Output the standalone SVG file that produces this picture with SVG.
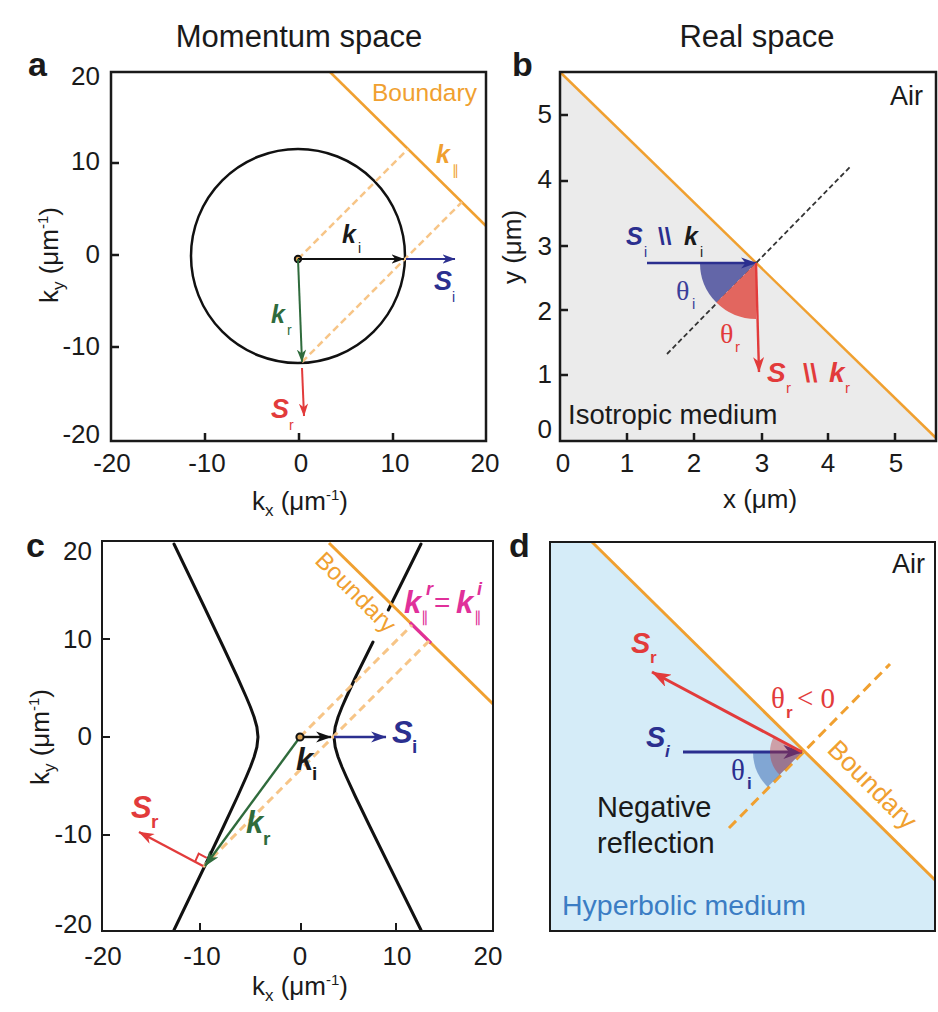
<svg xmlns="http://www.w3.org/2000/svg" width="938" height="1012" viewBox="0 0 938 1012">
<style>
text{font-family:"Liberation Sans",Arial,sans-serif;fill:#1a1a1a}
.tk{font-size:26px}
.ttl{font-size:31px}
.pl{font-size:34px;font-weight:bold}
.v{font-weight:bold;font-style:italic}
.sr{font-family:"Liberation Serif","Times New Roman",serif}
.frame{fill:none;stroke:#1a1a1a;stroke-width:2.5}
.tick{stroke:#1a1a1a;stroke-width:2.5}
.bd{stroke:#f0a030;stroke-width:2.5;fill:none}
.dsh{stroke:#f7c587;stroke-width:2.5;stroke-dasharray:7 4;fill:none}
.hyp{fill:none;stroke:#111;stroke-width:3;stroke-linejoin:round;stroke-linecap:round}
.blue{fill:#2b2f8f}
.red{fill:#e23b3b}
.green{fill:#2f6b3c}
.orng{fill:#f0a030}
.mag{fill:#e0309a}
</style>
<defs>
<marker id="ah-k" viewBox="0 0 14 10" refX="13.5" refY="5" markerWidth="6.5" markerHeight="4.6" markerUnits="strokeWidth" orient="auto"><path d="M0,0 L14,5 L0,10 L4,5 Z" fill="#111"/></marker>
<marker id="ah-b" viewBox="0 0 14 10" refX="13.5" refY="5" markerWidth="6.5" markerHeight="4.6" markerUnits="strokeWidth" orient="auto"><path d="M0,0 L14,5 L0,10 L4,5 Z" fill="#2b2f8f"/></marker>
<marker id="ah-r" viewBox="0 0 14 10" refX="13.5" refY="5" markerWidth="6.5" markerHeight="4.6" markerUnits="strokeWidth" orient="auto"><path d="M0,0 L14,5 L0,10 L4,5 Z" fill="#e23b3b"/></marker>
<marker id="ah-g" viewBox="0 0 14 10" refX="13.5" refY="5" markerWidth="6.5" markerHeight="4.6" markerUnits="strokeWidth" orient="auto"><path d="M0,0 L14,5 L0,10 L4,5 Z" fill="#2f6b3c"/></marker>
</defs>

<!-- titles -->
<text x="299" y="47" text-anchor="middle" class="ttl">Momentum space</text>
<text x="757" y="47" text-anchor="middle" class="ttl">Real space</text>

<!-- ================= Panel a ================= -->
<g id="panel-a">
  <text x="28" y="76" class="pl">a</text>
  <path class="bd" d="M330,72 L486,226"/>
  <circle cx="298" cy="256" r="107" fill="none" stroke="#111" stroke-width="2.5"/>
  <path class="dsh" d="M298,259 L408,149 M302,362 L462,202"/>
  <rect class="frame" x="111" y="72" width="375" height="369"/>
  <path class="tick" d="M205,441 v-8 M299,441 v-8 M393,441 v-8 M111,163 h8 M111,255 h8 M111,347 h8"/>
  <g class="tk" text-anchor="end">
    <text x="100" y="85">20</text>
    <text x="100" y="170">10</text>
    <text x="100" y="263">0</text>
    <text x="100" y="355">-10</text>
    <text x="100" y="443">-20</text>
  </g>
  <g class="tk" text-anchor="middle">
    <text x="112" y="472">-20</text>
    <text x="207" y="472">-10</text>
    <text x="301" y="472">0</text>
    <text x="395" y="472">10</text>
    <text x="485" y="472">20</text>
  </g>
  <text x="300" y="510" text-anchor="middle" class="tk">k<tspan font-size="17" dy="6">x</tspan><tspan dy="-6"> (μm</tspan><tspan font-size="15" dy="-10">-1</tspan><tspan dy="10">)</tspan></text>
  <text transform="translate(58,255) rotate(-90)" text-anchor="middle" class="tk">k<tspan font-size="17" dy="6">y</tspan><tspan dy="-6"> (μm</tspan><tspan font-size="15" dy="-10">-1</tspan><tspan dy="10">)</tspan></text>
  <text x="372" y="101" font-size="24.5" class="orng">Boundary</text>
  <text x="436" y="163" font-size="25" class="v orng">k</text>
  <text x="452" y="175" font-size="14" class="orng" font-family="DejaVu Sans">∥</text>
  <text x="342" y="243" font-size="25" class="v">k</text>
  <text x="358" y="253" font-size="14">i</text>
  <text x="434" y="290" font-size="27" class="v blue">S</text>
  <text x="452" y="302" font-size="14" class="blue">i</text>
  <text x="271" y="323" font-size="25" class="v green">k</text>
  <text x="287" y="335" font-size="14" class="green">r</text>
  <text x="271" y="418" font-size="27" class="v red">S</text>
  <text x="289" y="430" font-size="14" class="red">r</text>
</g>

<!-- ================= Panel b ================= -->
<g id="panel-b">
  <text x="512" y="76" class="pl">b</text>
  <polygon points="560,72 936,438 936,441 560,441" fill="#ebebeb"/>
  <path class="bd" d="M560,72 L936,438"/>
  <path d="M667,354 L850,167" stroke="#333" stroke-width="1.8" stroke-dasharray="5 3" fill="none"/>
  <path d="M756,263 L700,263 A56,56 0 0 0 716.4,302.6 Z" fill="#6366a8"/>
  <path d="M756,263 L716.4,302.6 A56,56 0 0 0 756,319 Z" fill="#e2665f"/>
  <rect class="frame" x="560" y="72" width="376" height="369"/>
  <path class="tick" d="M627,441 v-8 M694,441 v-8 M762,441 v-8 M828,441 v-8 M895,441 v-8 M560,115 h8 M560,181 h8 M560,246 h8 M560,310 h8 M560,375 h8"/>
  <g class="tk" text-anchor="end">
    <text x="552" y="123">5</text>
    <text x="552" y="188">4</text>
    <text x="552" y="255">3</text>
    <text x="552" y="320">2</text>
    <text x="552" y="383">1</text>
    <text x="552" y="438">0</text>
  </g>
  <g class="tk" text-anchor="middle">
    <text x="563" y="472">0</text>
    <text x="627" y="472">1</text>
    <text x="694" y="472">2</text>
    <text x="762" y="472">3</text>
    <text x="828" y="472">4</text>
    <text x="896" y="472">5</text>
  </g>
  <text x="760" y="508" text-anchor="middle" class="tk">x (μm)</text>
  <text transform="translate(521,247) rotate(-90)" text-anchor="middle" class="tk">y (μm)</text>
  <text x="923" y="105" text-anchor="end" font-size="27">Air</text>
  <text x="568" y="424" font-size="27.5">Isotropic medium</text>
  <text x="626" y="245" font-size="25" class="v blue">S</text>
  <text x="644" y="257" font-size="14" class="blue">i</text>
  <text x="658" y="245" font-size="24" font-weight="bold" class="blue">\\</text>
  <text x="684" y="245" font-size="25" class="v">k</text>
  <text x="700" y="257" font-size="14">i</text>
  <text x="676" y="300" font-size="28" class="sr" style="fill:#3b3f9a">θ</text>
  <text x="692" y="309" font-size="15" style="fill:#3b3f9a">i</text>
  <text x="720" y="343" font-size="28" class="sr" style="fill:#e23b3b">θ</text>
  <text x="735" y="352" font-size="15" class="red">r</text>
  <text x="767" y="382" font-size="28" class="v red">S</text>
  <text x="786" y="393" font-size="15" class="red">r</text>
  <text x="803" y="382" font-size="26" font-weight="bold" class="red">\\</text>
  <text x="829" y="382" font-size="28" class="v red">k</text>
  <text x="845" y="393" font-size="15" class="red">r</text>
</g>

<!-- ================= Panel c ================= -->
<g id="panel-c">
  <text x="26" y="557" class="pl">c</text>
  <path class="hyp" d="M174,544 L204.3,607 L223.3,647 L237.3,677 L246.2,697 L250.4,707 L254.1,717 L256.9,727 L258,737 L256.9,747 L254.1,757 L250.4,767 L246.2,777 L237.3,797 L223.3,827 L204.3,867 L174,930"/>
  <path class="hyp" d="M421,544 L388.3,610 M373,642 L355.6,677 L346.4,697 L342,707 L338.1,717 L335.2,727 L334,737 L335.2,747 L338.1,757 L342,767 L346.4,777 L355.6,797 L370.1,827 L389.8,867 L421,930"/>
  <path d="M329,543 L493,704" stroke="#f0a030" stroke-width="3" fill="none"/>
  <path d="M410,622.5 L431,643.2" stroke="#e0309a" stroke-width="3.2" fill="none"/>
  <path d="M300,737 L412,625 M203,867 L429,641" stroke="#f7c587" stroke-width="3" stroke-dasharray="8 5" fill="none"/>
  <rect x="102" y="541" width="391" height="390" fill="none" stroke="#1a1a1a" stroke-width="2"/>
  <path class="tick" d="M200,931 v-8 M301,931 v-8 M396,931 v-8 M102,639 h8 M102,737 h8 M102,835 h8" style="stroke-width:2"/>
  <g class="tk" text-anchor="end">
    <text x="92" y="560">20</text>
    <text x="92" y="648">10</text>
    <text x="92" y="745">0</text>
    <text x="92" y="843">-10</text>
    <text x="92" y="933">-20</text>
  </g>
  <g class="tk" text-anchor="middle">
    <text x="103" y="965">-20</text>
    <text x="202" y="965">-10</text>
    <text x="300" y="965">0</text>
    <text x="397" y="965">10</text>
    <text x="488" y="965">20</text>
  </g>
  <text x="300" y="995" text-anchor="middle" class="tk">k<tspan font-size="17" dy="6">x</tspan><tspan dy="-6"> (μm</tspan><tspan font-size="15" dy="-10">-1</tspan><tspan dy="10">)</tspan></text>
  <text transform="translate(49,737) rotate(-90)" text-anchor="middle" class="tk">k<tspan font-size="17" dy="6">y</tspan><tspan dy="-6"> (μm</tspan><tspan font-size="15" dy="-10">-1</tspan><tspan dy="10">)</tspan></text>
  <text transform="translate(350,598) rotate(45)" text-anchor="middle" font-size="24" class="orng">Boundary</text>
  <text x="404" y="613" font-size="31" class="v mag">k</text>
  <text x="426" y="595" font-size="18" class="v mag">r</text>
  <text x="421" y="622" font-size="15" class="mag" font-family="DejaVu Sans">∥</text>
  <text x="434" y="612" font-size="28" class="mag">=</text>
  <text x="456" y="613" font-size="31" class="v mag">k</text>
  <text x="477" y="595" font-size="18" class="v mag">i</text>
  <text x="474" y="622" font-size="15" class="mag" font-family="DejaVu Sans">∥</text>
  <text x="296" y="770" font-size="31" class="v">k</text>
  <text x="312" y="780" font-size="19" font-weight="bold">i</text>
  <text x="392" y="743" font-size="31" class="v blue">S</text>
  <text x="412" y="753" font-size="19" font-weight="bold" class="blue">i</text>
  <text x="246" y="833" font-size="31" class="v green">k</text>
  <text x="263" y="845" font-size="19" font-weight="bold" class="green">r</text>
  <text x="131" y="818" font-size="31" class="v red">S</text>
  <text x="151" y="828" font-size="19" font-weight="bold" class="red">r</text>
  <polyline points="195,861.8 198.7,853.6 206.7,857.8" fill="none" stroke="#e23b3b" stroke-width="2"/>
</g>

<!-- ================= Panel d ================= -->
<g id="panel-d">
  <text x="509" y="557" class="pl">d</text>
  <polygon points="550,542 592,542 935,880 935,931 550,931" fill="#d5ecf8"/>
  <path d="M592,542 L935,880" stroke="#f0a030" stroke-width="3" fill="none"/>
  <path d="M729,828 L890,664" stroke="#f0a030" stroke-width="3" stroke-dasharray="10 6" fill="none"/>
  <path d="M802,752 L753,752 A49,49 0 0 0 767.7,786.9 Z" fill="#3d6db5" fill-opacity="0.55"/>
  <rect x="550" y="542" width="385" height="389" fill="none" stroke="#1a1a1a" stroke-width="2"/>
  <text x="925" y="573" text-anchor="end" font-size="27">Air</text>
  <text transform="translate(866,791) rotate(45)" text-anchor="middle" font-size="26.5" class="orng">Boundary</text>
  <text x="597" y="817" font-size="29">Negative</text>
  <text x="597" y="853" font-size="29">reflection</text>
  <text x="562" y="915" font-size="28.5" style="fill:#3b7dc4">Hyperbolic medium</text>
  <text x="631" y="653" font-size="29" class="v red">S</text>
  <text x="650" y="663" font-size="17" font-weight="bold" class="red">r</text>
  <text x="771" y="708" font-size="29" class="sr" style="fill:#e23b3b">θ</text>
  <text x="786" y="718" font-size="17" font-weight="bold" class="red">r</text>
  <text x="797" y="708" font-size="29" class="sr" style="fill:#e23b3b">&lt; 0</text>
  <text x="646" y="747" font-size="29" class="v blue">S</text>
  <text x="665" y="757" font-size="17" font-style="italic" font-weight="bold" class="blue">i</text>
  <text x="731" y="780" font-size="29" class="sr" style="fill:#2b2f8f">θ</text>
  <text x="747" y="789" font-size="17" font-weight="bold" class="blue">i</text>
</g>

<!-- ================= arrows / connectors ================= -->
<g id="connectors" fill="none">
  <!-- panel a -->
  <circle cx="298" cy="259" r="3.2" fill="#d9a050" stroke="#111" stroke-width="2"/>
  <line x1="298" y1="259" x2="404" y2="259" stroke="#111" stroke-width="2" marker-end="url(#ah-k)"/>
  <line x1="406" y1="259" x2="455" y2="259" stroke="#2b2f8f" stroke-width="2" marker-end="url(#ah-b)"/>
  <line x1="298" y1="259" x2="302" y2="362" stroke="#2f6b3c" stroke-width="2" marker-end="url(#ah-g)"/>
  <line x1="302" y1="368" x2="304" y2="416" stroke="#e23b3b" stroke-width="2" marker-end="url(#ah-r)"/>
  <!-- panel b -->
  <line x1="647" y1="263" x2="756" y2="263" stroke="#2b2f8f" stroke-width="2.4" marker-end="url(#ah-b)"/>
  <line x1="756" y1="263" x2="759" y2="372" stroke="#e23b3b" stroke-width="2.4" marker-end="url(#ah-r)"/>
  <!-- panel c -->
  <line x1="300" y1="737" x2="331" y2="737" stroke="#111" stroke-width="2.4" marker-end="url(#ah-k)"/>
  <line x1="334" y1="737" x2="386" y2="737" stroke="#2b2f8f" stroke-width="2.4" marker-end="url(#ah-b)"/>
  <line x1="300" y1="737" x2="205" y2="866" stroke="#2f6b3c" stroke-width="2.4" marker-end="url(#ah-g)"/>
  <line x1="203" y1="866" x2="139" y2="832" stroke="#e23b3b" stroke-width="2.4" marker-end="url(#ah-r)"/>
  <circle cx="300" cy="737" r="3.6" fill="#d9a050" stroke="#111" stroke-width="2"/>
  <!-- panel d -->
  <line x1="683" y1="752" x2="802" y2="752" stroke="#2b2f8f" stroke-width="3" marker-end="url(#ah-b)"/>
  <path d="M802,752 L773.7,737 A32,32 0 0 0 779.6,774.8 Z" fill="#c03030" fill-opacity="0.4"/>
  <line x1="802" y1="752" x2="652" y2="672" stroke="#e23b3b" stroke-width="3" marker-end="url(#ah-r)"/>
</g>
</svg>
